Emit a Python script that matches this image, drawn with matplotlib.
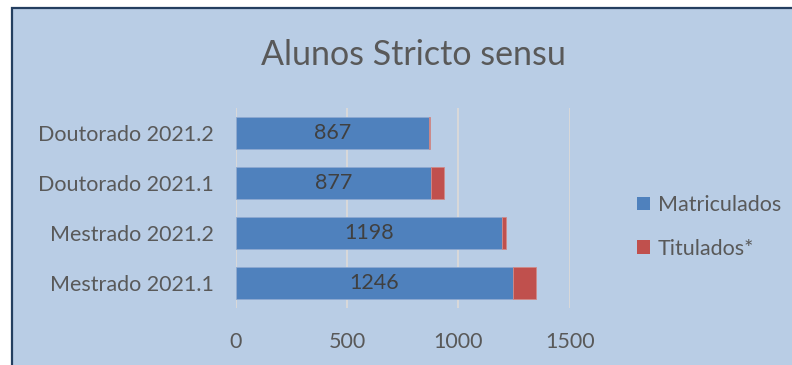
import matplotlib
matplotlib.use("Agg")
import matplotlib.pyplot as plt
from matplotlib.patches import Rectangle, Patch

categorias = ["Mestrado 2021.1", "Mestrado 2021.2", "Doutorado 2021.1", "Doutorado 2021.2"]
matriculados = [1246, 1198, 877, 867]
titulados = [104, 18, 58, 7]
ticks = [0, 500, 1000, 1500]

AZUL = "#4F81BD"
VERMELHO = "#C0504D"
FUNDO = "#B9CDE5"
TEXTO = "#595959"

plt.rcParams["font.family"] = ["Lato", "DejaVu Sans"]

W, H = 792, 365
fig = plt.figure(figsize=(W / 100, H / 100), dpi=100)
fig.patch.set_facecolor("white")

# painel azul com borda escura (sai pela direita e por baixo)
fig.patches.append(Rectangle((12 / W, -0.2), 1.2, 1.2 - 8 / H, transform=fig.transFigure,
                             facecolor=FUNDO, edgecolor="#243F60", linewidth=1.6,
                             zorder=-1))

ax = fig.add_axes([235.6 / W, 1 - 308 / H, (569.7 - 235.6) / W, 200 / H])
ax.set_facecolor("none")
ax.set_zorder(1)

y = range(len(categorias))
ax.barh(y, matriculados, height=0.65, color=AZUL, edgecolor="#8EA9D1",
        linewidth=0.6, zorder=3, label="Matriculados")
ax.barh(y, titulados, left=matriculados, height=0.65, color=VERMELHO,
        edgecolor="#D08A88", linewidth=0.6, zorder=3, label="Titulados*")

for i, v in enumerate(matriculados):
    ax.text(v / 2, i, str(v), ha="center", va="center", fontsize=15.5,
            color="#404040", zorder=4)

ax.set_xlim(0, 1500)
ax.set_ylim(-0.5, len(categorias) - 0.5)
ax.set_xticks(ticks)
ax.set_xticklabels([str(t) for t in ticks])
ax.set_yticks(list(y))
ax.set_yticklabels(categorias)
ax.tick_params(axis="both", length=0, labelsize=15.5, colors=TEXTO)
ax.tick_params(axis="x", pad=17)
ax.tick_params(axis="y", pad=16)
ax.grid(axis="x", color="#D9D9D9", linewidth=1.4, zorder=1)
for s in ax.spines.values():
    s.set_visible(False)

fig.text(413 / W, 1 - 55 / H, "Alunos Stricto sensu", ha="center", va="center",
         fontsize=24.5, color=TEXTO)

handles = [Patch(facecolor=AZUL, label="Matriculados"),
           Patch(facecolor=VERMELHO, label="Titulados*")]
fig.legend(handles=handles, loc="center left", bbox_to_anchor=(618 / W, 1 - 227 / H),
           frameon=False, fontsize=15.5, labelcolor=TEXTO, handlelength=0.6,
           handleheight=0.6, handletextpad=0.35, labelspacing=1.1)

fig.savefig("out.png", dpi=100)
